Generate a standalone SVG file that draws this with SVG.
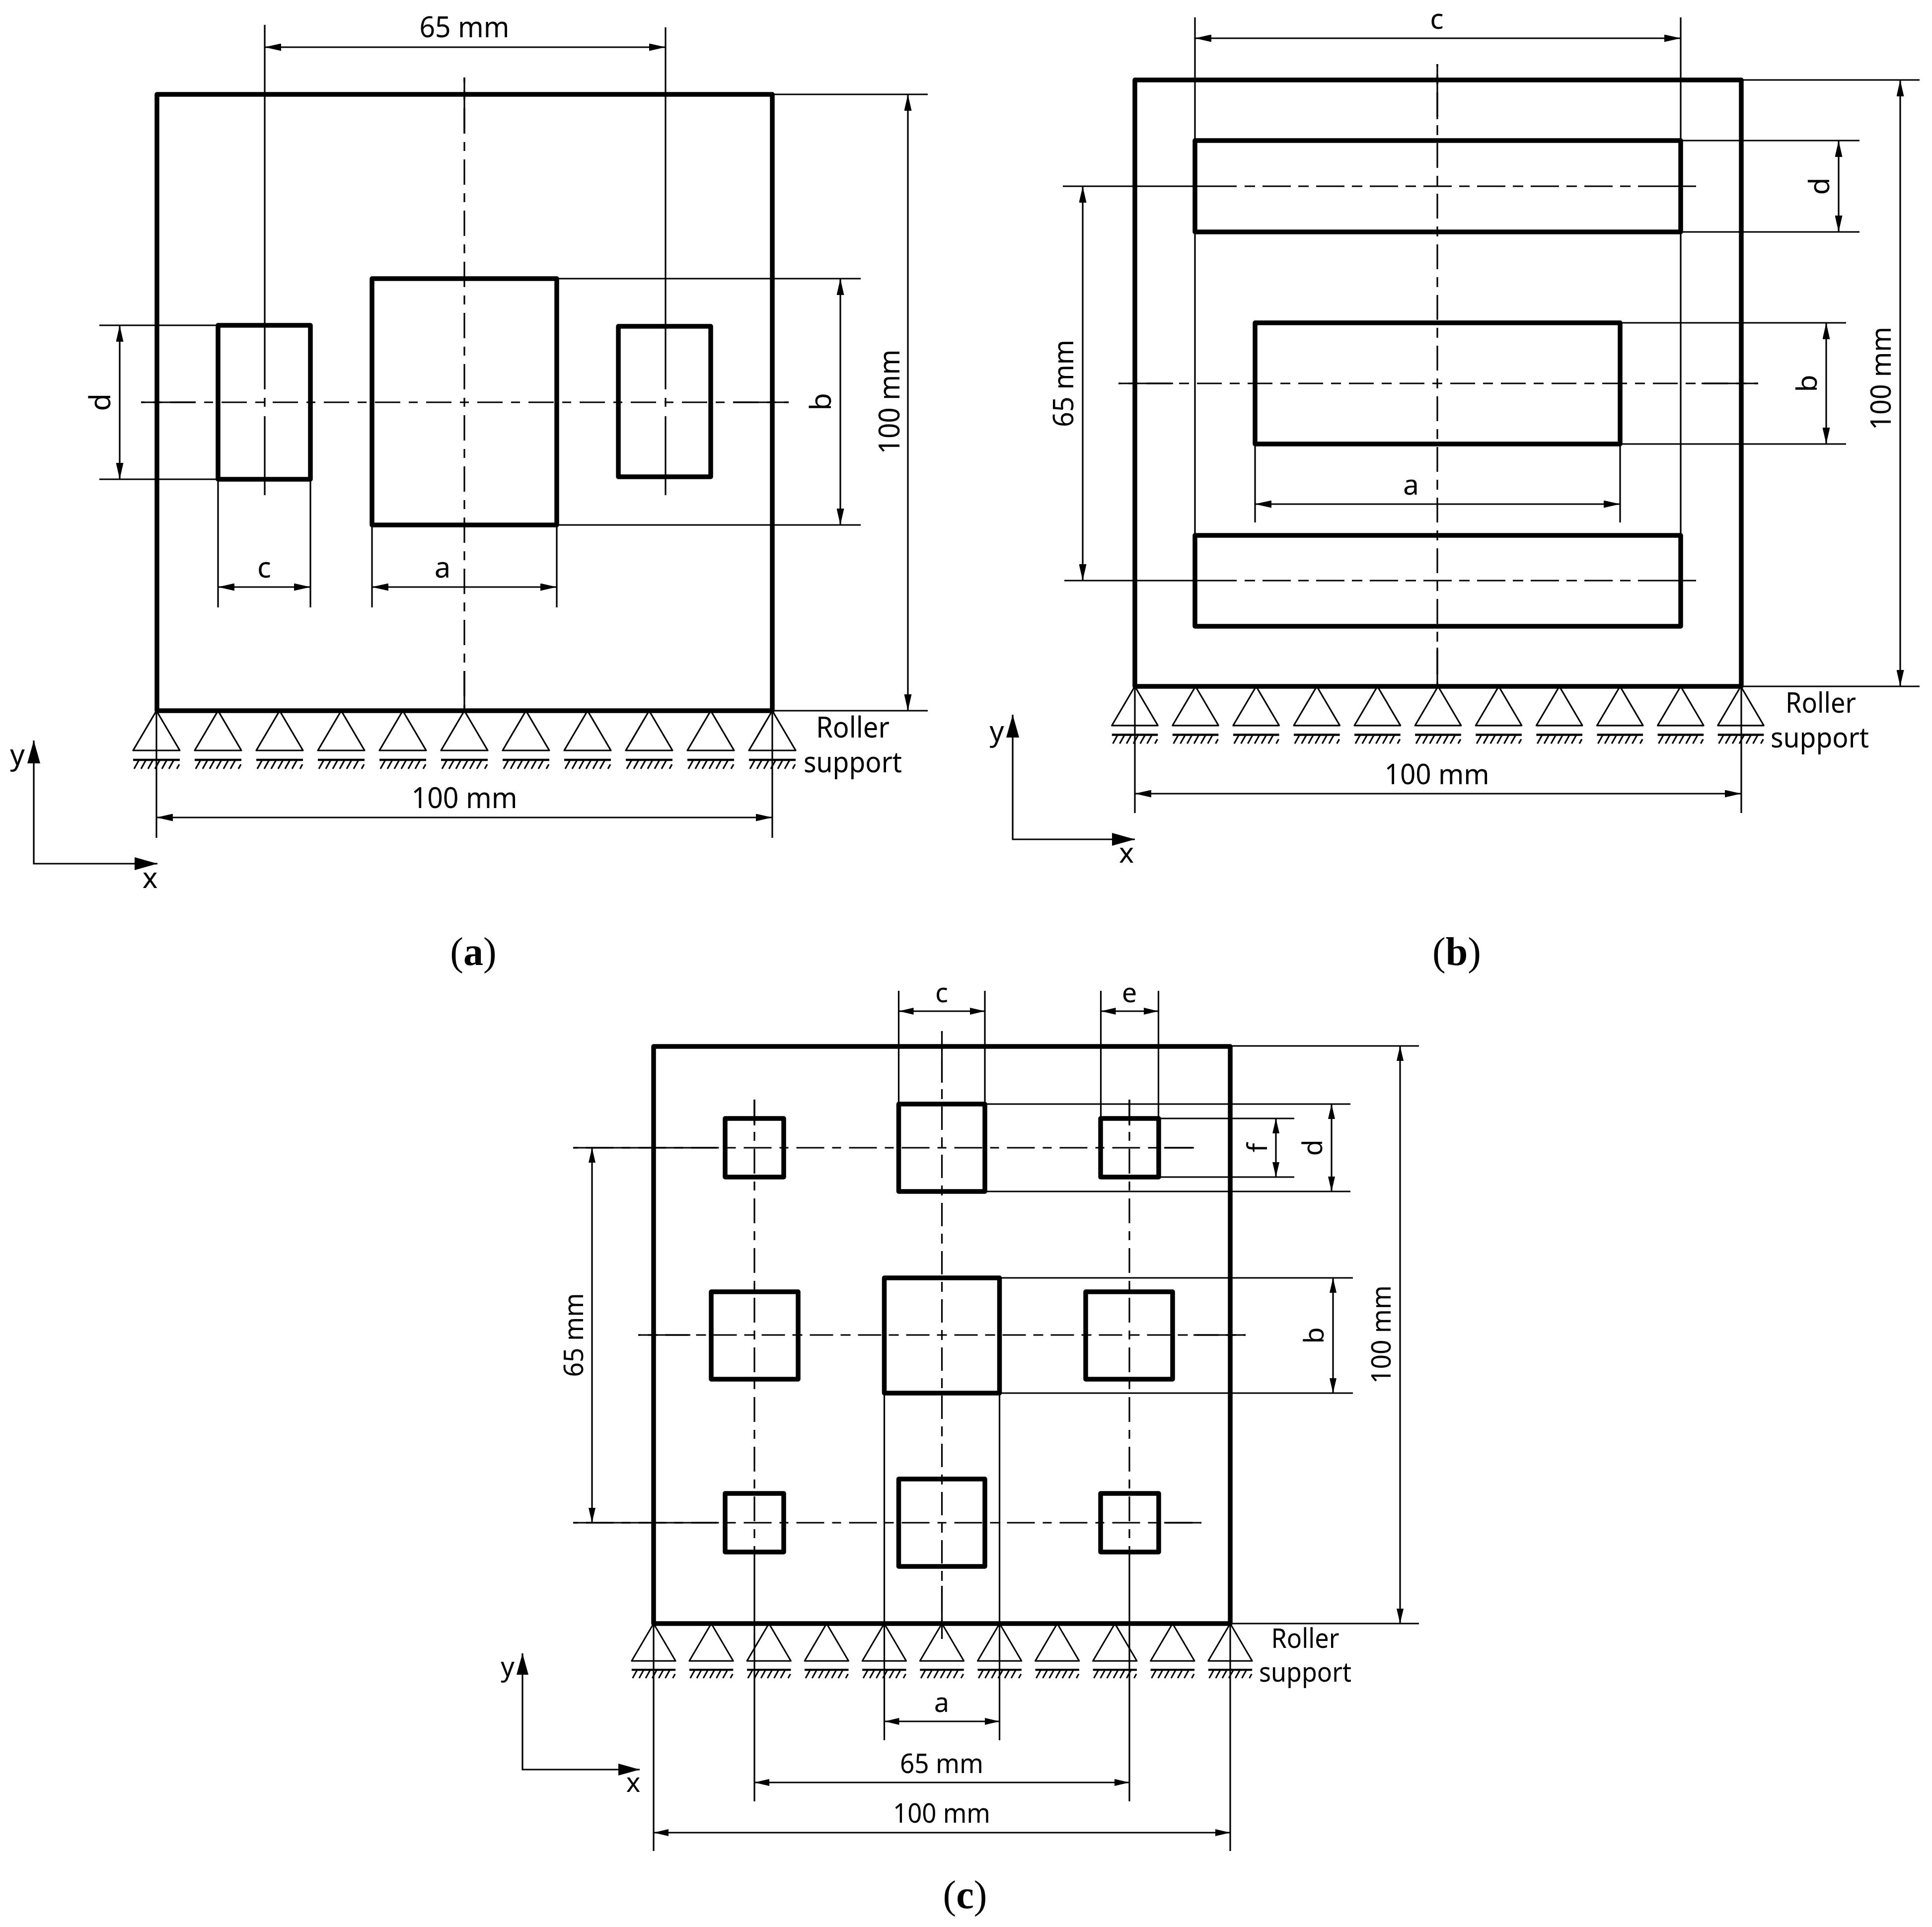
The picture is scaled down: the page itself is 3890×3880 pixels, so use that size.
<svg xmlns="http://www.w3.org/2000/svg" xmlns:xlink="http://www.w3.org/1999/xlink" width="3890" height="3880" viewBox="0 0 3890 3880">
<style>
.thick{fill:none;stroke:#000;stroke-width:9.5;stroke-linejoin:round}
.thin{fill:none;stroke:#000;stroke-width:3.2}
.dim{fill:none;stroke:#000;stroke-width:3.2;marker-start:url(#ah);marker-end:url(#ah)}
.dimc{fill:none;stroke:#000;stroke-width:3.2;marker-start:url(#ahs);marker-end:url(#ahs)}
.axis{fill:none;stroke:#000;stroke-width:3.2;marker-start:url(#ax);marker-end:url(#ax);stroke-linejoin:miter}
.axisc{fill:none;stroke:#000;stroke-width:3.2;marker-start:url(#axs);marker-end:url(#axs)}
text{font-family:"Noto Sans","Open Sans",sans-serif;fill:#000;text-anchor:middle}
.a text{font-size:58px}.b text{font-size:57px}.c text{font-size:54px}
text.cap{font-family:"Liberation Serif",serif;font-size:80px}
.bold{font-weight:bold}
</style>
<defs>
<marker id="ah" markerUnits="userSpaceOnUse" viewBox="0 0 33 15" refX="33" refY="7.5" markerWidth="33" markerHeight="15" orient="auto-start-reverse"><path d="M0 0L33 7.5L0 15Z"/></marker>
<marker id="ahs" markerUnits="userSpaceOnUse" viewBox="0 0 30 14" refX="30" refY="7" markerWidth="30" markerHeight="14" orient="auto-start-reverse"><path d="M0 0L30 7L0 14Z"/></marker>
<marker id="ax" markerUnits="userSpaceOnUse" viewBox="0 0 46 26" refX="46" refY="13" markerWidth="46" markerHeight="26" orient="auto-start-reverse"><path d="M0 0L46 13L0 26Z"/></marker>
<marker id="axs" markerUnits="userSpaceOnUse" viewBox="0 0 43 24" refX="43" refY="12" markerWidth="43" markerHeight="24" orient="auto-start-reverse"><path d="M0 0L43 12L0 24Z"/></marker>
<g id="support">
<path class="thin" d="M0 0L-47 80H47Z" stroke-linejoin="round"/>
<path d="M-47 99H47" fill="none" stroke="#000" stroke-width="4.5"/>
<path class="thin" stroke-width="2.6" d="M-35 99L-45 117M-21 99L-31 117M-7 99L-17 117M7 99L-3 117M21 99L11 117M35 99L25 117M46 108L41 117"/>
</g>
</defs>
<rect width="3890" height="3880" fill="#fff"/>

<g id="panel-a" class="a">
<g id="connectors-a">
<path class="thin" d="M284 810H394M1476 810H1588"/>
<path class="thin" stroke-dasharray="18 17 51 17" stroke-dashoffset="79" d="M284 810H1588"/>
<path class="thin" d="M935 156V269M935 1351V1431"/>
<path class="thin" stroke-dasharray="18 17 51 17" stroke-dashoffset="76" d="M935 156V1431"/>
<path class="thin" d="M533 50V784M533 801V819M533 838V997"/>
<path class="thin" d="M1340 55V784M1340 801V819M1340 838V997"/>
<path class="dim" d="M533 95H1340"/>
<path class="thin" d="M1555 190H1868M1555 1431H1868"/>
<path class="dim" d="M1828 190V1431"/>
<path class="thin" d="M1121 561H1733M1121 1057H1733"/>
<path class="dim" d="M1692 561V1057"/>
<path class="thin" d="M200 655H439M200 965H439"/>
<path class="dim" d="M241 655V965"/>
<path class="thin" d="M439 965V1223M625 965V1223"/>
<path class="dim" d="M439 1182H625"/>
<path class="thin" d="M749 1057V1223M1121 1057V1223"/>
<path class="dim" d="M749 1182H1121"/>
<path class="thin" d="M315 1431V1687M1555 1431V1687"/>
<path class="dim" d="M315 1646H1555"/>
<path class="axis" d="M68 1491V1739H317"/>
</g>
<rect id="plate-a" class="thick" x="316" y="190" width="1239" height="1241"/>
<rect id="hole-a1" class="thick" x="439" y="655" width="186" height="310"/>
<rect id="hole-a2" class="thick" x="749" y="561" width="372" height="496"/>
<rect id="hole-a3" class="thick" x="1245" y="657" width="186" height="303"/>
<g id="supports-a">
<use href="#support" transform="translate(315 1431)"/><use href="#support" transform="translate(439 1431)"/><use href="#support" transform="translate(563 1431)"/><use href="#support" transform="translate(687 1431)"/><use href="#support" transform="translate(811 1431)"/><use href="#support" transform="translate(935 1431)"/><use href="#support" transform="translate(1059 1431)"/><use href="#support" transform="translate(1183 1431)"/><use href="#support" transform="translate(1307 1431)"/><use href="#support" transform="translate(1431 1431)"/><use href="#support" transform="translate(1555 1431)"/>
</g>
<g id="labels-a">
<text x="935" y="75" textLength="181" lengthAdjust="spacingAndGlyphs">65 mm</text>
<text transform="rotate(-90 1811 809)" x="1811" y="809" textLength="211" lengthAdjust="spacingAndGlyphs">100 mm</text>
<text transform="rotate(-90 1673 809)" x="1673" y="809">b</text>
<text transform="rotate(-90 222 810)" x="222" y="810">d</text>
<text x="532" y="1163">c</text>
<text x="891" y="1163">a</text>
<text x="935" y="1627" textLength="213" lengthAdjust="spacingAndGlyphs">100 mm</text>
<text x="1717" y="1485" textLength="148" lengthAdjust="spacingAndGlyphs">Roller</text>
<text x="1717" y="1555" textLength="198" lengthAdjust="spacingAndGlyphs">support</text>
<text x="35" y="1540">y</text>
<text x="302" y="1788">x</text>
</g>
</g>

<g id="panel-b" class="b">
<g id="connectors-b">
<path class="thin" d="M2252 772H2362M3426 772H3540"/>
<path class="thin" stroke-dasharray="20 16 50 16" stroke-dashoffset="82" d="M2252 772H3540"/>
<path class="thin" d="M2894 129V240M2894 1304V1382"/>
<path class="thin" stroke-dasharray="20 16 50 16" stroke-dashoffset="81" d="M2894 129V1382"/>
<path class="thin" d="M2140 375H2490M3299 375H3415M2143 1169H2490M3299 1169H3415"/>
<path class="thin" stroke-dasharray="21 15 57 15" d="M2506 375H3299M2506 1169H3299"/>
<path class="dim" d="M2180 375V1169"/>
<path class="thin" d="M2406 35V1078M3384 35V1078"/>
<path class="dim" d="M2406 77H3384"/>
<path class="thin" d="M3384 283H3744M3384 467H3744"/>
<path class="dim" d="M3702 283V467"/>
<path class="thin" d="M3262 650H3717M3262 894H3717"/>
<path class="dim" d="M3677 650V894"/>
<path class="thin" d="M2527 894V1052M3262 894V1052"/>
<path class="dim" d="M2527 1015H3262"/>
<path class="thin" d="M3506 161H3865M3506 1382H3865"/>
<path class="dim" d="M3826 161V1382"/>
<path class="thin" d="M2285 1382V1637M3506 1382V1637"/>
<path class="dim" d="M2285 1598H3506"/>
<path class="axis" d="M2039 1439V1690H2285"/>
</g>
<rect id="plate-b" class="thick" x="2285" y="161" width="1221" height="1221"/>
<rect id="hole-b1" class="thick" x="2406" y="283" width="978" height="184"/>
<rect id="hole-b2" class="thick" x="2527" y="650" width="735" height="244"/>
<rect id="hole-b3" class="thick" x="2406" y="1078" width="978" height="183"/>
<g id="supports-b">
<use href="#support" transform="translate(2285 1382) scale(.985)"/><use href="#support" transform="translate(2407.1 1382) scale(.985)"/><use href="#support" transform="translate(2529.2 1382) scale(.985)"/><use href="#support" transform="translate(2651.3 1382) scale(.985)"/><use href="#support" transform="translate(2773.4 1382) scale(.985)"/><use href="#support" transform="translate(2895.5 1382) scale(.985)"/><use href="#support" transform="translate(3017.6 1382) scale(.985)"/><use href="#support" transform="translate(3139.7 1382) scale(.985)"/><use href="#support" transform="translate(3261.8 1382) scale(.985)"/><use href="#support" transform="translate(3383.9 1382) scale(.985)"/><use href="#support" transform="translate(3505 1382) scale(.985)"/>
</g>
<g id="labels-b">
<text x="2893" y="58">c</text>
<text transform="rotate(-90 2161 772)" x="2161" y="772" textLength="176" lengthAdjust="spacingAndGlyphs">65 mm</text>
<text transform="rotate(-90 3807 762)" x="3807" y="762" textLength="208" lengthAdjust="spacingAndGlyphs">100 mm</text>
<text transform="rotate(-90 3683 375)" x="3683" y="375">d</text>
<text transform="rotate(-90 3658 772)" x="3658" y="772">b</text>
<text x="2841" y="996">a</text>
<text x="2893" y="1579" textLength="211" lengthAdjust="spacingAndGlyphs">100 mm</text>
<text x="3666" y="1435" textLength="142" lengthAdjust="spacingAndGlyphs">Roller</text>
<text x="3664" y="1505" textLength="198" lengthAdjust="spacingAndGlyphs">support</text>
<text x="2007" y="1492">y</text>
<text x="2268" y="1737">x</text>
</g>
</g>

<g id="panel-c" class="c">
<g id="connectors-c">
<path class="thin" d="M1154 2311H1444M2344 2311H2404M1154 3066H1444M2344 3066H2419"/>
<path class="thin" stroke-dasharray="18 16 56 16" stroke-dashoffset="8.5" d="M1154 2311H2404M1154 3066H2419"/>
<path class="thin" d="M1285 2688H1390M2403 2688H2508"/>
<path class="thin" stroke-dasharray="20 15 47 15" stroke-dashoffset="77.5" d="M1285 2688H2508"/>
<path class="thin" d="M1896.5 2076V2180M1896.5 3193V3300"/>
<path class="thin" stroke-dasharray="20 15 47 15" stroke-dashoffset="77" d="M1896.5 2076V3300"/>
<path class="thin" stroke-dasharray="18 16 50 16" stroke-dashoffset="35" d="M1519 2214V3153M2274 2214V3153"/>
<path class="thin" d="M1519 2214V2266M1519 3153V3627M2274 2214V2266M2274 3153V3627"/>
<path class="thin" d="M1809.5 1995V2223M1983 1995V2223M2216.5 1995V2252M2332.5 1995V2252"/>
<path class="dimc" d="M1809.5 2036H1983"/>
<path class="dimc" d="M2216.5 2036H2332.5"/>
<path class="thin" d="M2477 2106H2857M2477 3269H2857"/>
<path class="dimc" d="M2819 2106V3269"/>
<path class="thin" d="M1983 2223H2719M1983 2399H2719"/>
<path class="dimc" d="M2681 2223V2399"/>
<path class="thin" d="M2333 2252H2606M2333 2370H2606"/>
<path class="dimc" d="M2569 2252V2370"/>
<path class="thin" d="M2012.5 2573H2724M2012.5 2805H2724"/>
<path class="dimc" d="M2684 2573V2805"/>
<path class="thin" d="M1780.5 2805V3504M2012.5 2805V3504"/>
<path class="dimc" d="M1780.5 3466H2012.5"/>
<path class="dimc" d="M1519 3589H2274"/>
<path class="thin" d="M1316 3269V3727M2477 3269V3727"/>
<path class="dimc" d="M1316 3690H2477"/>
<path class="dimc" d="M1192 2311V3066"/>
<path class="axisc" d="M1052 3329V3563H1288"/>
</g>
<rect id="plate-c" class="thick" x="1316" y="2107" width="1161" height="1162"/>
<rect id="hole-c1" class="thick" x="1460" y="2252" width="118" height="118"/>
<rect id="hole-c2" class="thick" x="1809.5" y="2223" width="173.5" height="176"/>
<rect id="hole-c3" class="thick" x="2216" y="2252" width="117" height="118"/>
<rect id="hole-c4" class="thick" x="1432" y="2601" width="175" height="176"/>
<rect id="hole-c5" class="thick" x="1780.5" y="2573" width="232" height="232"/>
<rect id="hole-c6" class="thick" x="2186" y="2601" width="175" height="176"/>
<rect id="hole-c7" class="thick" x="1460" y="3007" width="118" height="118"/>
<rect id="hole-c8" class="thick" x="1809.5" y="2978" width="173.5" height="176"/>
<rect id="hole-c9" class="thick" x="2216" y="3007" width="117" height="118"/>
<g id="supports-c">
<use href="#support" transform="translate(1316 3269) scale(.94)"/><use href="#support" transform="translate(1432.1 3269) scale(.94)"/><use href="#support" transform="translate(1548.2 3269) scale(.94)"/><use href="#support" transform="translate(1664.3 3269) scale(.94)"/><use href="#support" transform="translate(1780.4 3269) scale(.94)"/><use href="#support" transform="translate(1896.5 3269) scale(.94)"/><use href="#support" transform="translate(2012.6 3269) scale(.94)"/><use href="#support" transform="translate(2128.7 3269) scale(.94)"/><use href="#support" transform="translate(2244.8 3269) scale(.94)"/><use href="#support" transform="translate(2360.9 3269) scale(.94)"/><use href="#support" transform="translate(2477 3269) scale(.94)"/>
</g>
<g id="labels-c">
<text x="1896" y="2018">c</text>
<text x="2274" y="2018">e</text>
<text transform="rotate(-90 2800 2687)" x="2800" y="2687" textLength="198" lengthAdjust="spacingAndGlyphs">100 mm</text>
<text transform="rotate(-90 2662 2311)" x="2662" y="2311">d</text>
<text transform="rotate(-90 2551 2311)" x="2551" y="2311">f</text>
<text transform="rotate(-90 2665 2689)" x="2665" y="2689">b</text>
<text transform="rotate(-90 1174 2688)" x="1174" y="2688" textLength="169" lengthAdjust="spacingAndGlyphs">65 mm</text>
<text x="1896" y="3447">a</text>
<text x="1896" y="3570" textLength="168" lengthAdjust="spacingAndGlyphs">65 mm</text>
<text x="1896" y="3670" textLength="196" lengthAdjust="spacingAndGlyphs">100 mm</text>
<text x="2628" y="3318" textLength="137" lengthAdjust="spacingAndGlyphs">Roller</text>
<text x="2628" y="3386" textLength="186" lengthAdjust="spacingAndGlyphs">support</text>
<text x="1022" y="3375">y</text>
<text x="1275" y="3608">x</text>
</g>
</g>

<g id="captions">
<text class="cap" x="953" y="1943">(<tspan class="bold">a</tspan>)</text>
<text class="cap" x="2933" y="1943">(<tspan class="bold">b</tspan>)</text>
<text class="cap" x="1943" y="3842">(<tspan class="bold">c</tspan>)</text>
</g>
</svg>
